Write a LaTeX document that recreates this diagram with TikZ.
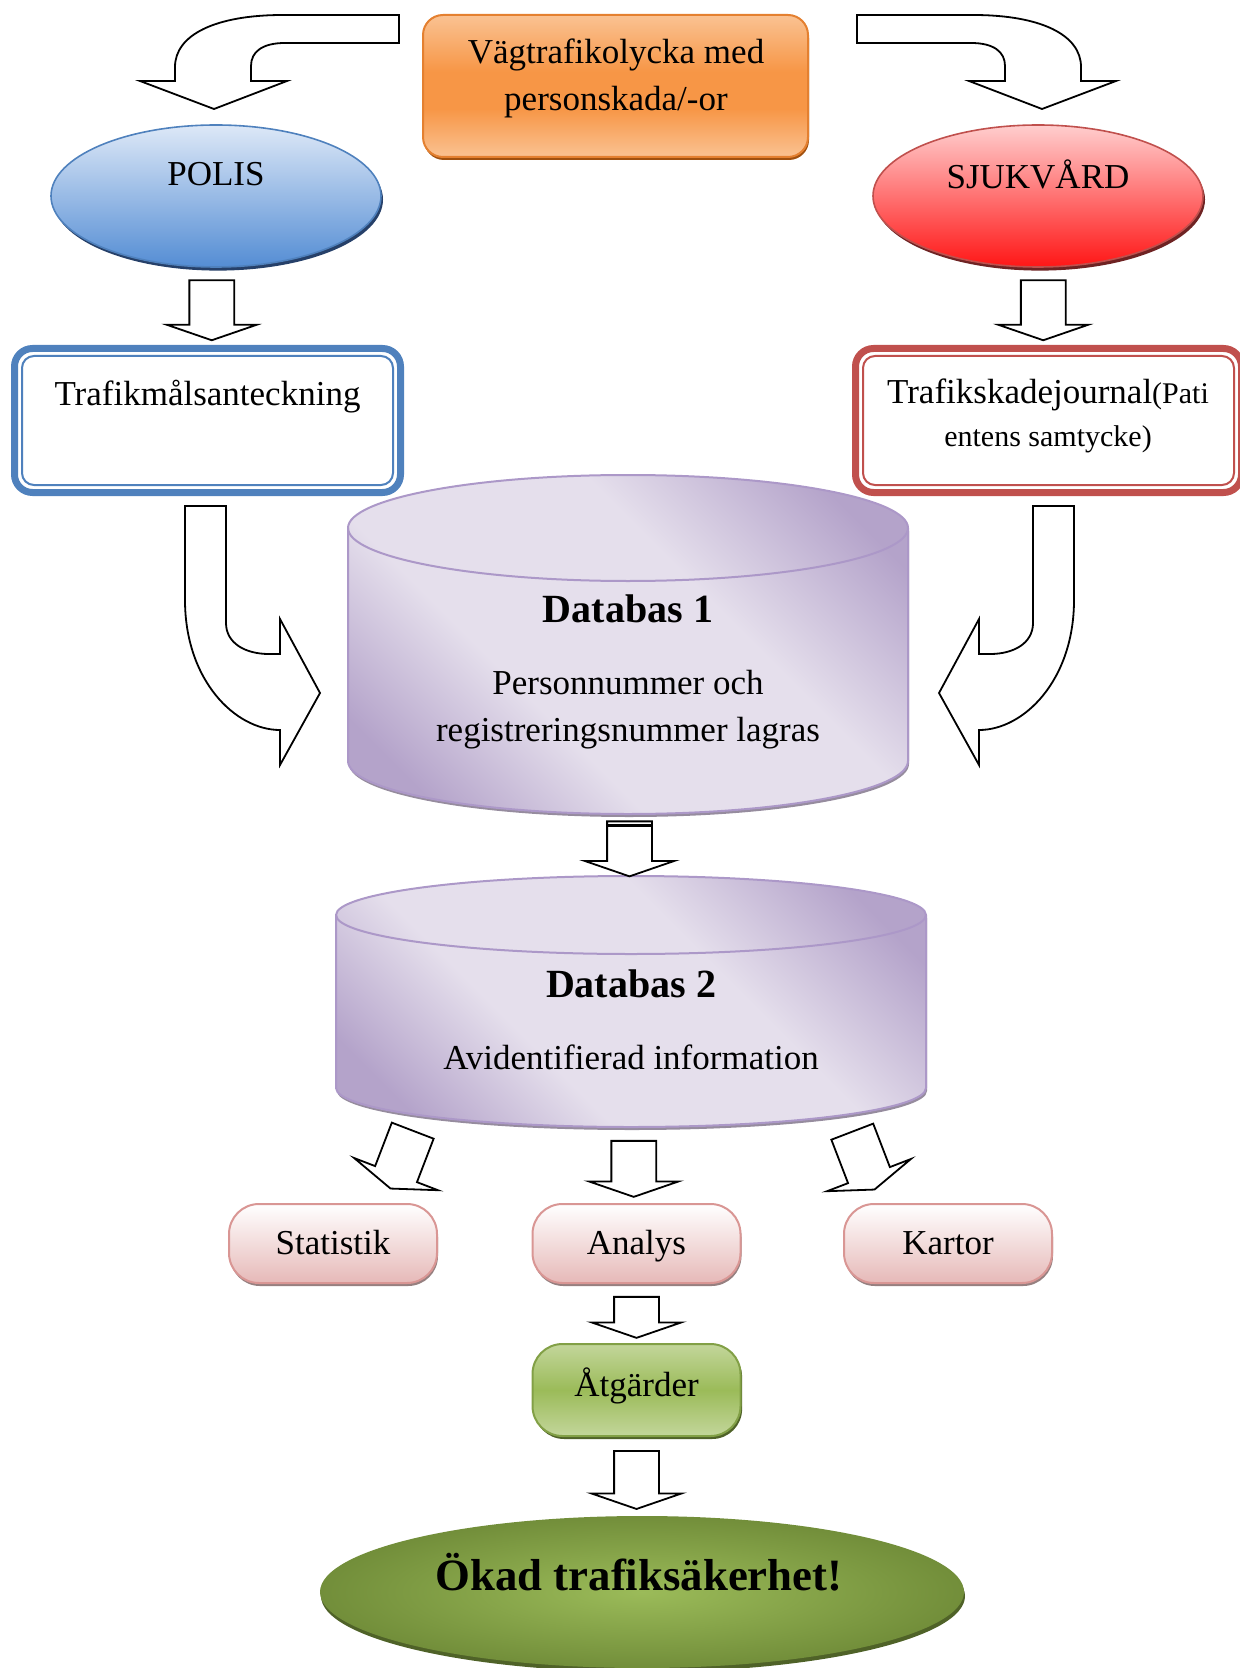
\documentclass[tikz,border=0pt]{standalone}
\usepackage{fontspec}
\setmainfont{Liberation Serif}
\usetikzlibrary{shapes.geometric, shapes.arrows, shadows, calc}

\definecolor{orlite}{RGB}{250,194,146}
\definecolor{ormid}{RGB}{247,150,70}
\definecolor{orline}{RGB}{228,128,48}
\definecolor{orshadow}{RGB}{160,80,15}
\definecolor{blulite}{RGB}{221,232,247}
\definecolor{bludark}{RGB}{84,141,212}
\definecolor{bluline}{RGB}{79,129,189}
\definecolor{blushadow}{RGB}{38,64,105}
\definecolor{redlite}{RGB}{255,206,206}
\definecolor{reddark}{RGB}{255,22,22}
\definecolor{redline}{RGB}{192,80,77}
\definecolor{redshadow}{RGB}{110,35,35}
\definecolor{lillite}{RGB}{229,223,236}
\definecolor{lildark}{RGB}{180,163,202}
\definecolor{lilline}{RGB}{172,152,200}
\definecolor{lilshadow}{RGB}{150,140,158}
\definecolor{pinkbot}{RGB}{230,185,184}
\definecolor{pinkline}{RGB}{217,150,148}
\definecolor{pinkshadow}{RGB}{150,128,128}
\definecolor{grnlite}{RGB}{195,214,155}
\definecolor{grnmid}{RGB}{155,187,89}
\definecolor{grnline}{RGB}{130,160,70}
\definecolor{grnshadow}{RGB}{79,98,40}
\definecolor{okdlite}{RGB}{155,187,89}
\definecolor{okddark}{RGB}{114,142,58}

\pgfdeclareverticalshading{orband}{100bp}{color(0bp)=(orlite); color(25bp)=(orlite);
  color(42bp)=(ormid); color(55bp)=(ormid); color(75bp)=(orlite); color(100bp)=(orlite)}
\pgfdeclareverticalshading{grnband}{100bp}{color(0bp)=(grnlite); color(25bp)=(grnlite);
  color(50bp)=(grnmid); color(75bp)=(grnlite); color(100bp)=(grnlite)}
\pgfdeclarehorizontalshading{lilac}{100bp}{color(0bp)=(lildark); color(22bp)=(lildark);
  color(38bp)=(lillite); color(60bp)=(lillite); color(78bp)=(lildark); color(100bp)=(lildark)}

\begin{document}
\begin{tikzpicture}[x=0.5pt, y=-0.5pt,
    font=\fontsize{17.5}{23.5}\selectfont,
    blkarr/.style={single arrow, draw, fill=white, line width=0.9pt, inner xsep=0pt,
      inner ysep=10.75pt, single arrow head extend=11.25pt, single arrow tip angle=142},
    bendarr/.style={draw, fill=white, line width=0.9pt},
    oval/.style={ellipse, inner sep=0pt, line width=0.8pt},
    card/.style={rectangle, rounded corners=9pt, fill=white, line width=3.5pt,
      minimum width=193pt, minimum height=72pt},
    pill/.style={rectangle, rounded corners=15pt, draw=pinkline, line width=1pt,
      top color=white, bottom color=pinkbot, minimum width=104pt, minimum height=39.5pt,
      text height=12pt, text depth=1pt,
      drop shadow={shadow xshift=.5pt, shadow yshift=-1.5pt, opacity=1, fill=pinkshadow}},
    lbl/.style={inner sep=0pt, align=center},
    tit/.style={lbl, font=\fontsize{20}{24}\selectfont\bfseries}]
  \useasboundingbox (0,0) rectangle (1240,1668);

  % Nodes
  \node[rectangle, rounded corners=10pt, draw=orline, line width=1pt, shading=orband,
    minimum width=192.5pt, minimum height=71pt,
    drop shadow={shadow xshift=.5pt, shadow yshift=-1.5pt, opacity=1, fill=orshadow}]
    (acc) at (615.5,86) {};
  \node[lbl] (acc-t) at (616,78) {Vägtrafikolycka med\\personskada/-or};

  \node[oval, draw=bluline, top color=blulite, bottom color=bludark,
    minimum width=165pt, minimum height=71pt,
    drop shadow={shadow xshift=1pt, shadow yshift=-1.8pt, opacity=1, fill=blushadow}]
    (polis) at (216,196) {};
  \node[lbl] (polis-t) at (216,174) {POLIS};

  \node[oval, draw=redline, top color=redlite, bottom color=reddark,
    minimum width=165pt, minimum height=71pt,
    drop shadow={shadow xshift=1pt, shadow yshift=-1.8pt, opacity=1, fill=redshadow}]
    (sjuk) at (1038,196) {};
  \node[lbl] (sjuk-t) at (1038,174) {SJUKVÅRD};

  \node[card, draw=bluline] (tma) at (207.5,420.5) {};
  \draw[bluline, line width=1pt, rounded corners=6pt]
    ([shift={(5.5pt,-5.5pt)}]tma.north west) rectangle ([shift={(-5.5pt,5.5pt)}]tma.south east);
  \node[lbl] (tma-t) at (207.5,397) {Trafikmålsanteckning};

  \node[card, draw=redline] (tsj) at (1048.5,420.5) {};
  \draw[redline, line width=1pt, rounded corners=6pt]
    ([shift={(5.5pt,-5.5pt)}]tsj.north west) rectangle ([shift={(-5.5pt,5.5pt)}]tsj.south east);
  \node[lbl, font=\fontsize{17.5}{21.5}\selectfont] (tsj-t) at (1048,416)
    {Trafikskadejournal{\fontsize{15}{21.5}\selectfont(Pati}\\{\fontsize{15}{21.5}\selectfont entens samtycke)}};

  % Databas 1
  \path[shading=lilac, shading angle=45, draw=lilline, line width=1pt,
    drop shadow={shadow xshift=.5pt, shadow yshift=-1.5pt, opacity=1, fill=lilshadow}]
    (348,528) -- (348,761) arc[start angle=180, end angle=360, x radius=140pt, y radius=26.5pt]
    -- (908,528) arc[start angle=0, end angle=180, x radius=140pt, y radius=26.5pt] -- cycle;
  \draw[lilline, line width=1pt] (348,528)
    arc[start angle=180, end angle=360, x radius=140pt, y radius=26.5pt];
  \coordinate (db1-bot) at (628,814);
  \node[tit] (db1-t) at (628,609) {Databas 1};
  \node[lbl] (db1-s) at (628,710) {Personnummer och\\registreringsnummer lagras};

  % Databas 2
  \path[shading=lilac, shading angle=45, draw=lilline, line width=1pt,
    drop shadow={shadow xshift=.5pt, shadow yshift=-1.5pt, opacity=1, fill=lilshadow}]
    (336,915) -- (336,1088) arc[start angle=180, end angle=360, x radius=147.5pt, y radius=19.5pt]
    -- (926,915) arc[start angle=0, end angle=180, x radius=147.5pt, y radius=19.5pt] -- cycle;
  \draw[lilline, line width=1pt] (336,915)
    arc[start angle=180, end angle=360, x radius=147.5pt, y radius=19.5pt];
  \coordinate (db2-top) at (631,876);
  \coordinate (db2-bot) at (631,1127);
  \node[tit] (db2-t) at (631,984) {Databas 2};
  \node[lbl] (db2-s) at (631,1057) {Avidentifierad information};

  \node[pill] (stat) at (333,1243.5) {Statistik};
  \node[pill] (anal) at (636.5,1243.5) {Analys};
  \node[pill] (kart) at (948,1243.5) {Kartor};

  \node[rectangle, rounded corners=15pt, draw=grnline, line width=1pt, shading=grnband,
    minimum width=104pt, minimum height=46pt, text height=10pt, text depth=4pt,
    drop shadow={shadow xshift=.8pt, shadow yshift=-1.5pt, opacity=1, fill=grnshadow}]
    (atg) at (636.5,1390) {Åtgärder};

  \node[oval, draw=none, inner color=okdlite, outer color=okddark,
    minimum width=322pt, minimum height=76pt,
    drop shadow={shadow xshift=.5pt, shadow yshift=-2pt, opacity=1, fill=grnshadow}]
    (okad) at (642,1592) {};
  \node[lbl, font=\fontsize{22.4}{26}\selectfont\bfseries] (okad-t) at (639,1572) {Ökad trafiksäkerhet!};

  % Edges
  \path[bendarr] (399,15) -- (283,15) .. controls (215,15) and (175,35) .. (175,67)
    -- (175,81) -- (140,81) -- (214,109) -- (287,81) -- (251,81) -- (251,66)
    .. controls (251,52) and (262,43) .. (285,43) -- (399,43) -- cycle;
  \begin{scope}[shift={(1256,0)}, xscale=-1]
    \path[bendarr] (399,15) -- (283,15) .. controls (215,15) and (175,35) .. (175,67)
      -- (175,81) -- (140,81) -- (214,109) -- (287,81) -- (251,81) -- (251,66)
      .. controls (251,52) and (262,43) .. (285,43) -- (399,43) -- cycle;
  \end{scope}

  \path[bendarr] (185,506) -- (226,506) -- (226,623) .. controls (226,643) and (245,654) .. (269,654)
    -- (280,654) -- (280,619) -- (320,693) -- (280,765) -- (280,730)
    .. controls (235,730) and (185,680) .. (185,600) -- cycle;
  \begin{scope}[shift={(1259,0)}, xscale=-1]
    \path[bendarr] (185,506) -- (226,506) -- (226,623) .. controls (226,643) and (245,654) .. (269,654)
      -- (280,654) -- (280,619) -- (320,693) -- (280,765) -- (280,730)
      .. controls (235,730) and (185,680) .. (185,600) -- cycle;
  \end{scope}

  \node[blkarr, minimum height=30pt, rotate=-90] (a1) at ($(polis.south)!.5!(tma.north)$) {};
  \node[blkarr, minimum height=30pt, rotate=-90] (a2) at ($(sjuk.south)!.5!(tsj.north)$) {};
  \node[blkarr, minimum height=27.5pt, rotate=-90] (a3) at ($(db1-bot)!.5!(db2-top)$) {};
  \draw[line width=1.2pt] ([yshift=-2.5pt]a3.before tail) -- ([yshift=-2.5pt]a3.after tail);
  \node[blkarr, minimum height=28pt, rotate=-90] (a4) at ($(db2-bot)!.5!(anal.north)$) {};
  \node[blkarr, minimum height=31pt, rotate=-111] (a5) at (403,1156) {};
  \node[blkarr, minimum height=31pt, rotate=-69] (a6) at (862,1157) {};
  \node[blkarr, minimum height=20.5pt, rotate=-90] (a7) at ($(anal.south)!.5!(atg.north)$) {};
  \node[blkarr, minimum height=29pt, rotate=-90] (a8) at ($(atg.south)!.5!(atg.south|-okad.north)$) {};
\end{tikzpicture}
\end{document}
